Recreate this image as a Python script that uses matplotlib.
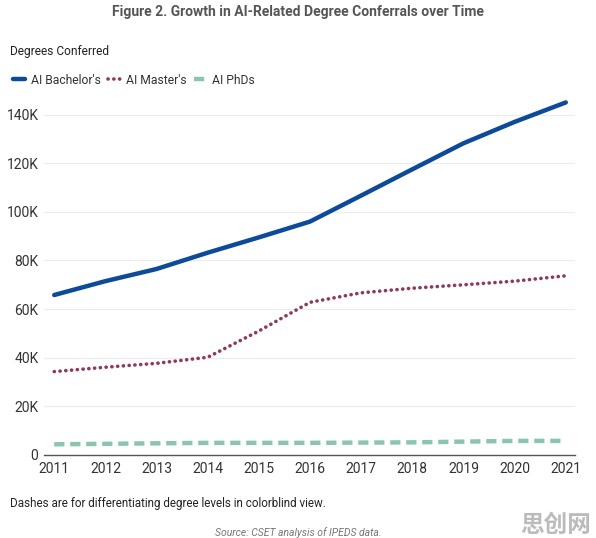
import matplotlib.pyplot as plt
from matplotlib.ticker import FuncFormatter

plt.rcParams['font.family'] = ['Roboto', 'DejaVu Sans']

# Data
years = [2011, 2012, 2013, 2014, 2015, 2016, 2017, 2018, 2019, 2020, 2021]
bachelors = [65800, 71500, 76500, 83200, 89500, 96000, 106700, 117500, 128200, 137000, 145000]
masters = [34300, 36100, 37700, 40200, 51000, 62800, 66700, 68600, 70000, 71500, 73700]
phds = [4400, 4600, 4800, 5000, 5000, 5000, 5100, 5200, 5500, 5800, 5800]
y_ticks = [0, 20000, 40000, 60000, 80000, 100000, 120000, 140000]

blue = "#0d4a98"
maroon = "#8e3a5c"
green = "#8cc5ae"

fig = plt.figure(figsize=(5.96, 5.38), dpi=100)
ax = fig.add_axes([44 / 596, 1 - 455 / 538, (575 - 44) / 596, (455 - 100) / 538])

ax.plot(years, bachelors, color=blue, lw=3.2, solid_capstyle="round",
        label="AI Bachelor's", clip_on=False)
ax.plot(years, masters, color=maroon, lw=2.6, linestyle=(0, (0.05, 1.55)),
        dash_capstyle="round", label="AI Master's", clip_on=False)
ax.plot(years, phds, color=green, lw=3.2, linestyle=(0, (2.3, 1.3)),
        dash_capstyle="butt", label="AI PhDs", clip_on=False)

ax.set_xlim(2010.8, 2021.18)
ax.set_ylim(0, 146000)
ax.set_xticks(years)
ax.set_yticks(y_ticks)
ax.yaxis.set_major_formatter(FuncFormatter(lambda v, p: "0" if v == 0 else f"{int(v / 1000)}K"))

ax.grid(axis="y", color="#ececec", lw=0.8)
ax.set_axisbelow(True)
for side in ["top", "right", "left"]:
    ax.spines[side].set_visible(False)
ax.spines["bottom"].set_color("#555555")
ax.spines["bottom"].set_linewidth(1.0)
ax.tick_params(axis="y", length=0, labelsize=10, labelcolor="#333333", pad=4)
ax.tick_params(axis="x", length=0, labelsize=10, labelcolor="#333333", pad=5)

# Titles and notes
fig.text(0.5, 1 - 12 / 538, "Figure 2. Growth in AI-Related Degree Conferrals over Time",
         ha="center", va="center", fontsize=10, fontweight="bold", color="#555555")
fig.text(10 / 596, 1 - 52 / 538, "Degrees Conferred", ha="left", va="center",
         fontsize=8.6, color="#222222")
leg = fig.legend(loc="center left", bbox_to_anchor=(2 / 596, 1 - 80 / 538), ncol=3,
                 frameon=False, fontsize=8.7, handlelength=1.0, handletextpad=0.5,
                 columnspacing=0.6)
for t in leg.get_texts():
    t.set_color("#333333")
fig.text(10 / 596, 1 - 503 / 538, "Dashes are for differentiating degree levels in colorblind view.",
         ha="left", va="center", fontsize=8.4, color="#222222")
fig.text(0.5, 1 - 533 / 538, "Source: CSET analysis of IPEDS data.", ha="center", va="center",
         fontsize=7.5, style="italic", color="#777777")
fig.text(591 / 596, 1 - 525 / 538, "思创网", ha="right", va="center", fontsize=17,
         fontweight="bold", color="#bbbbbb", family=["Noto Sans CJK SC", "DejaVu Sans"])

fig.savefig("out.png", dpi=100)
